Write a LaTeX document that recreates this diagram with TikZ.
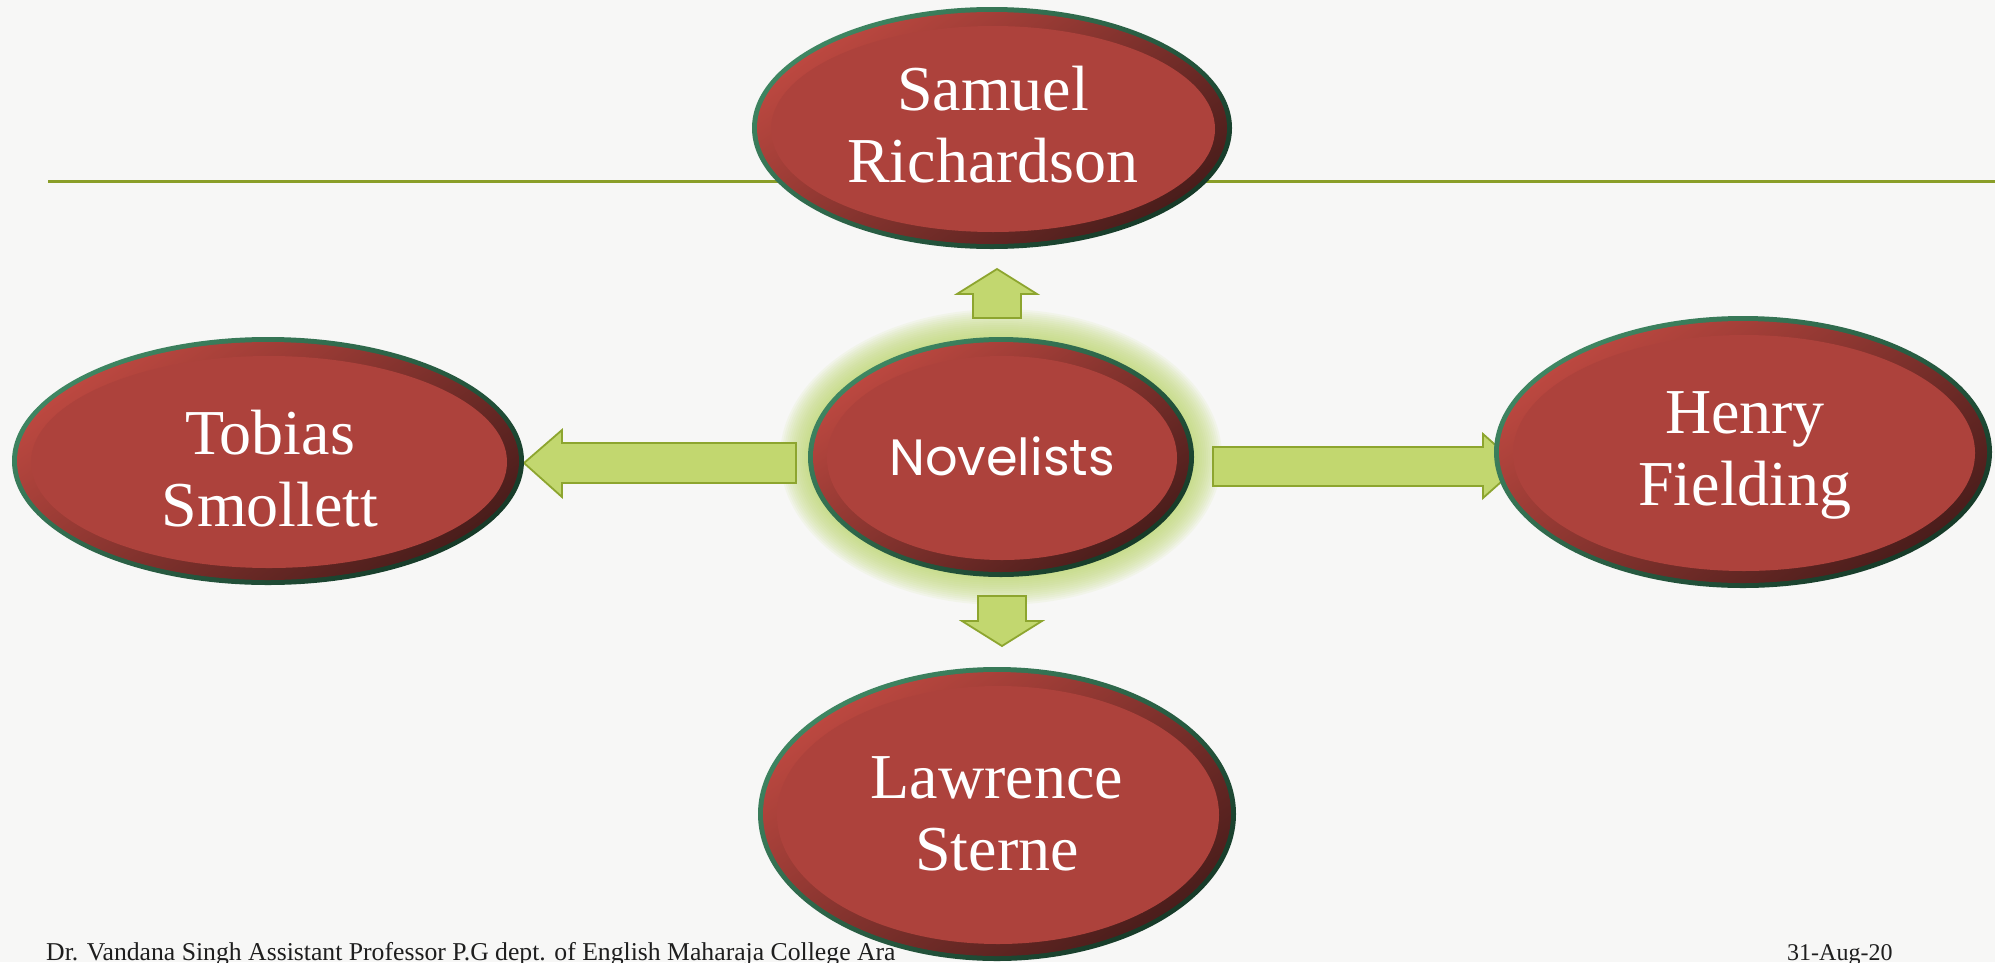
\documentclass[tikz,border=0pt]{standalone}
\usepackage{fontspec}
\usetikzlibrary{shapes.geometric}
\newfontfamily\elfont{Liberation Serif}
\newfontfamily\novfont{Poppins}
\definecolor{bgc}{HTML}{F7F7F6}
\definecolor{linec}{HTML}{8A9E28}
\definecolor{arrowF}{HTML}{C2D76F}
\definecolor{arrowD}{HTML}{8DA52F}
\definecolor{grnL}{HTML}{3F8662}
\definecolor{grnD}{HTML}{163A28}
\definecolor{redL}{HTML}{BC4840}
\definecolor{redD}{HTML}{4A1D1B}
\definecolor{redM}{HTML}{AD423C}
\definecolor{glowc}{HTML}{BFD870}
\definecolor{footc}{HTML}{1E1E1E}
\tikzset{
  blockarrow/.style={fill=arrowF, draw=arrowD, line width=1.8pt, line join=miter},
  eltext/.style={text=white, font=\elfont\fontsize{64}{72}\selectfont, align=center, inner sep=0pt},
  novtext/.style={text=white, font=\novfont\fontsize{51}{60}\selectfont, inner sep=0pt},
  foottext/.style={text=footc, font=\elfont\fontsize{25.7}{28}\selectfont, inner sep=0pt},
  datetext/.style={text=footc, font=\elfont\fontsize{24}{28}\selectfont, inner sep=0pt},
}
% name, x, y, rx, ry
\newcommand\bevelell[5]{%
  \shade[top color=grnL, bottom color=grnD, shading angle=35] (#2,#3) ellipse [x radius=#4pt, y radius=#5pt];
  \shade[top color=redL, bottom color=redD, shading angle=35] (#2,#3) ellipse [x radius=#4pt-5pt, y radius=#5pt-5pt];
  \fill[redM] (#2+1,#3+1) ellipse [x radius=#4pt-18pt, y radius=#5pt-18pt];
  \node[ellipse, minimum width=2*#4pt, minimum height=2*#5pt, inner sep=0pt] (#1) at (#2,#3) {};
}
\begin{document}
\begin{tikzpicture}[x=1pt,y=-1pt]
\fill[bgc] (0,0) rectangle (1995,962);
\useasboundingbox (0,0) rectangle (1995,962);
% header rule
\coordinate (ruleL) at (48,181);
\coordinate (ruleR) at (1995,181);
\draw[linec, line width=3pt] (ruleL) -- (ruleR);
% glow around centre
\foreach \r in {1,...,14}{
  \fill[glowc, opacity=0.09] (1001,457) ellipse [x radius=193pt+2*\r pt, y radius=120pt+2*\r pt];
}
% block arrows
\draw[blockarrow] (796,443) -- (562,443) -- (562,430) -- (524,463) -- (562,497) -- (562,483) -- (796,483) -- cycle;
\draw[blockarrow] (1213,447) -- (1483,447) -- (1483,434) -- (1519,466) -- (1483,498) -- (1483,486) -- (1213,486) -- cycle;
\draw[blockarrow] (973,318) -- (973,294) -- (957,294) -- (997,269) -- (1037,294) -- (1021,294) -- (1021,318) -- cycle;
\draw[blockarrow] (978,596) -- (1026,596) -- (1026,621) -- (1042,621) -- (1002,646) -- (962,621) -- (978,621) -- cycle;
% ellipses
\bevelell{sam}{992}{128}{240}{121}
\bevelell{nov}{1001}{457}{193}{120}
\bevelell{tob}{268}{461}{256}{124}
\bevelell{hen}{1743}{452}{249}{136}
\bevelell{law}{997}{814}{239}{147}
% texts
\node[eltext] (samT) at (993,131.6) {\strut Samuel\\\strut Richardson};
\node[novtext, anchor=base] (novT) at (1002,475) {Novelists};
\node[eltext] (tobT) at (270,475.6) {\strut Tobias\\\strut Smollett};
\node[eltext] (henT) at (1745,454.6) {\strut Henry\\\strut Fielding};
\node[eltext] (lawT) at (997,819.6) {\strut Lawrence\\\strut Sterne};
% footer
\node[foottext, anchor=base west] (foot) at (46,960) {Dr. Vandana Singh Assistant Professor P.G dept. of English Maharaja College Ara};
\node[datetext, anchor=base west] (date) at (1787,960) {31-Aug-20};
\end{tikzpicture}
\end{document}
